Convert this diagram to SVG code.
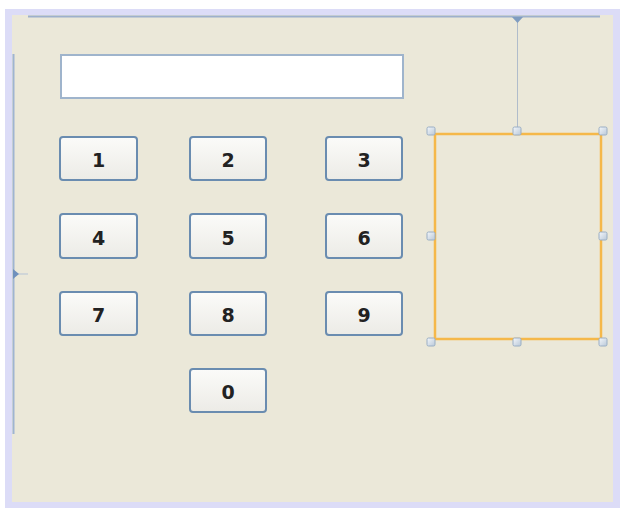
<svg xmlns="http://www.w3.org/2000/svg" width="620" height="510" viewBox="0 0 620 510">
<defs>
<linearGradient id="btnGrad" x1="0" y1="0" x2="0" y2="1">
<stop offset="0" stop-color="#fbfbf9"/>
<stop offset="1" stop-color="#ecebe6"/>
</linearGradient>
<linearGradient id="hGrad" x1="0" y1="0" x2="1" y2="1">
<stop offset="0" stop-color="#f4f7fb"/>
<stop offset="1" stop-color="#b9c8d8"/>
</linearGradient>
</defs>
<style>
.btn rect{fill:url(#btnGrad);stroke:#6a8cb0;stroke-width:2}
.btn text{font-family:"DejaVu Sans",sans-serif;font-weight:bold;font-size:19px;fill:#222;text-anchor:middle}
.handle{fill:url(#hGrad);stroke:#9aaec4;stroke-width:1}
</style>
<rect x="0" y="0" width="620" height="510" fill="#ffffff"/>
<rect x="5" y="9" width="615" height="499" fill="#dcdcf7"/>
<rect x="12" y="15" width="601" height="487" fill="#ebe8d9"/>
<g id="connectors">
<line x1="28" y1="16.5" x2="600" y2="16.5" stroke="#9db0cc" stroke-width="2"/>
<line x1="517.5" y1="18" x2="517.5" y2="130" stroke="#b0bccb" stroke-width="1"/>
<path d="M512,17 L523,17 L517.5,23 Z" fill="#7f9cc0"/>
<line x1="13.5" y1="54" x2="13.5" y2="434" stroke="#9fb4d2" stroke-width="2"/>
<line x1="14" y1="274" x2="28" y2="274" stroke="#b5c3d6" stroke-width="1"/>
<path d="M13,269 L19,274 L13,279 Z" fill="#6f90bd"/>
</g>
<g id="textfield">
<rect x="61" y="55" width="342" height="43" fill="#ffffff" stroke="#9fb4cc" stroke-width="2"/>
</g>
<g id="btn1" class="btn"><rect x="60" y="137" width="77" height="43" rx="3"/><text x="98.5" y="167">1</text></g>
<g id="btn2" class="btn"><rect x="190" y="137" width="76" height="43" rx="3"/><text x="228" y="167">2</text></g>
<g id="btn3" class="btn"><rect x="326" y="137" width="76" height="43" rx="3"/><text x="364" y="167">3</text></g>
<g id="btn4" class="btn"><rect x="60" y="214" width="77" height="44" rx="3"/><text x="98.5" y="245">4</text></g>
<g id="btn5" class="btn"><rect x="190" y="214" width="76" height="44" rx="3"/><text x="228" y="245">5</text></g>
<g id="btn6" class="btn"><rect x="326" y="214" width="76" height="44" rx="3"/><text x="364" y="245">6</text></g>
<g id="btn7" class="btn"><rect x="60" y="292" width="77" height="43" rx="3"/><text x="98.5" y="322">7</text></g>
<g id="btn8" class="btn"><rect x="190" y="292" width="76" height="43" rx="3"/><text x="228" y="322">8</text></g>
<g id="btn9" class="btn"><rect x="326" y="292" width="76" height="43" rx="3"/><text x="364" y="322">9</text></g>
<g id="btn0" class="btn"><rect x="190" y="369" width="76" height="43" rx="3"/><text x="228" y="399">0</text></g>
<g id="selection">
<rect x="435" y="134" width="166" height="205" fill="none" stroke="#f5b84a" stroke-width="2.5"/>
<rect class="handle" x="427" y="127" width="8" height="8" rx="1.5"/>
<rect class="handle" x="513" y="127" width="8" height="8" rx="1.5"/>
<rect class="handle" x="599" y="127" width="8" height="8" rx="1.5"/>
<rect class="handle" x="427" y="232" width="8" height="8" rx="1.5"/>
<rect class="handle" x="599" y="232" width="8" height="8" rx="1.5"/>
<rect class="handle" x="427" y="338" width="8" height="8" rx="1.5"/>
<rect class="handle" x="513" y="338" width="8" height="8" rx="1.5"/>
<rect class="handle" x="599" y="338" width="8" height="8" rx="1.5"/>
</g>
</svg>
